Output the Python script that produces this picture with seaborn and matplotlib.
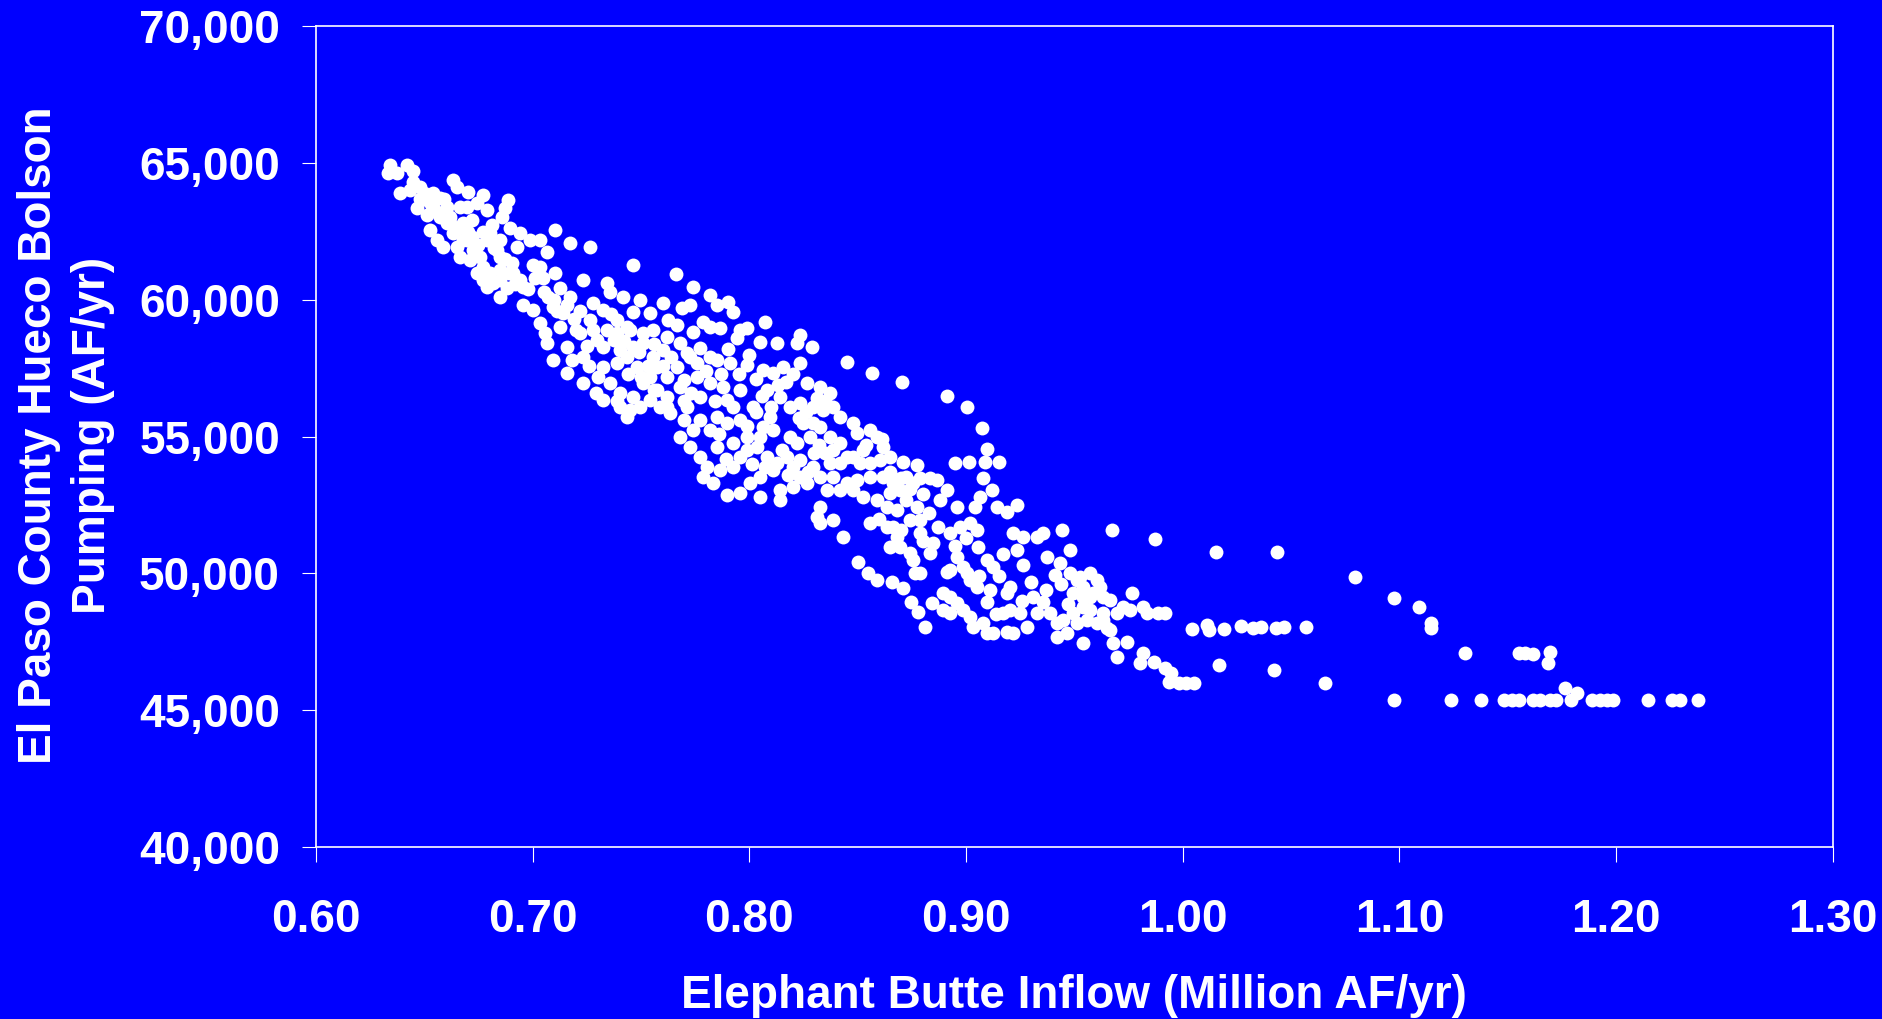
import matplotlib
matplotlib.use("Agg")
import matplotlib.pyplot as plt
import seaborn as sns
import pandas as pd

# (inflow in million AF/yr, pumping in AF/yr) pairs
upper_band = [
    (0.6341, 64933), (0.6334, 64628), (0.6372, 64628), (0.6418, 64933), (0.6449, 64726),
    (0.6388, 63897), (0.6434, 64018), (0.6480, 64140), (0.6465, 63348), (0.6511, 63104),
    (0.6541, 63897), (0.6572, 63714), (0.6603, 63409), (0.6634, 64384), (0.6649, 64140),
    (0.6703, 63957), (0.6741, 63531), (0.6772, 63836), (0.6788, 63287), (0.6888, 63653),
    (0.6872, 63348), (0.6857, 63043), (0.6811, 62739), (0.6803, 62434), (0.6895, 62617),
    (0.6941, 62434), (0.6988, 62190), (0.7034, 62190), (0.7103, 62556), (0.7172, 62068),
    (0.7264, 61946), (0.7064, 61763), (0.7003, 61276), (0.7034, 61215), (0.7103, 60971),
    (0.7049, 60788), (0.6903, 61337), (0.6941, 60727), (0.6957, 60483), (0.6526, 62556),
    (0.6557, 62190), (0.6588, 61946), (0.6603, 62800), (0.6634, 62434), (0.6680, 62800),
    (0.6718, 62921), (0.6695, 62190), (0.6726, 61824), (0.6757, 61580), (0.6772, 61215),
    (0.6803, 60971), (0.6818, 60605), (0.6788, 60483), (0.6849, 60727), (0.6880, 60422),
    (0.6849, 60118), (0.6957, 59813), (0.7003, 59630), (0.7034, 59143), (0.7057, 58777),
    (0.7072, 60118), (0.7126, 60422), (0.7172, 60118), (0.7095, 59752), (0.7141, 59508),
    (0.7234, 60727), (0.7280, 59874), (0.7264, 59264), (0.7218, 58777), (0.7157, 58289),
    (0.7126, 59021), (0.7064, 58411), (0.7095, 57802), (0.7157, 57314), (0.7234, 57923),
    (0.7234, 56948), (0.7295, 58533), (0.6511, 63653), (0.6541, 63409), (0.6572, 63043),
    (0.6618, 63043), (0.6665, 63409), (0.6695, 63409), (0.6649, 61946), (0.6665, 61580),
    (0.6711, 61459), (0.6741, 60971), (0.6772, 60727), (0.6849, 61093), (0.6911, 60971),
    (0.6834, 61824), (0.6788, 62190), (0.6849, 62190), (0.6926, 61946), (0.6849, 61580),
    (0.6450, 64300), (0.6480, 63700), (0.6500, 63900), (0.6530, 63500), (0.6560, 63200),
    (0.6590, 63700), (0.6620, 62800), (0.6650, 62600), (0.6680, 62200), (0.6700, 62500),
    (0.6720, 62300), (0.6750, 62000), (0.6770, 62500), (0.6820, 61900), (0.6870, 61500),
    (0.6890, 61000), (0.6920, 60600), (0.6980, 60400), (0.7010, 60800), (0.7050, 60300),
    (0.7100, 60000), (0.7110, 59600), (0.7160, 59800), (0.7190, 59300), (0.7220, 59600),
    (0.7200, 58900), (0.7250, 58300), (0.7280, 58900), (0.7180, 57800), (0.7260, 57600),
    (0.7300, 57200), (0.7290, 56600),
]

central_mass = [
    (0.7465, 61276), (0.7662, 60947), (0.7742, 60484), (0.7342, 60606), (0.7357, 60301),
    (0.7419, 60118), (0.7496, 59997), (0.7603, 59875), (0.7688, 59692), (0.7726, 59814),
    (0.7819, 60179), (0.7849, 59814), (0.7903, 59935), (0.7926, 59570), (0.7626, 59265),
    (0.7665, 59082), (0.7542, 59509), (0.7465, 59570), (0.7388, 59265), (0.7342, 58899),
    (0.7434, 59021), (0.7511, 58778), (0.7742, 58838), (0.7788, 59204), (0.7819, 59021),
    (0.7865, 58960), (0.7957, 58899), (0.7942, 58595), (0.7988, 58960), (0.8072, 59204),
    (0.8049, 58473), (0.8126, 58412), (0.8234, 58717), (0.8219, 58412), (0.8288, 58290),
    (0.8449, 57741), (0.8565, 57339), (0.7326, 56340), (0.7403, 56096), (0.7434, 55730),
    (0.7465, 56461), (0.7511, 56949), (0.7542, 57193), (0.7603, 58168), (0.7572, 56705),
    (0.7619, 57193), (0.7665, 57559), (0.7696, 57071), (0.7619, 56461), (0.7634, 55852),
    (0.7711, 56096), (0.7757, 57193), (0.7772, 56461), (0.7819, 56949), (0.7880, 56827),
    (0.7957, 56705), (0.7988, 57620), (0.7849, 57802), (0.7772, 58229), (0.7819, 57924),
    (0.7896, 56340), (0.7926, 56096), (0.7849, 55730), (0.7819, 55242), (0.7896, 55486),
    (0.7957, 55608), (0.8019, 56096), (0.8065, 57437), (0.8111, 57315), (0.8157, 57559),
    (0.8234, 57680), (0.8265, 56949), (0.8326, 56827), (0.8372, 56583), (0.8080, 56705),
    (0.8142, 56461), (0.8188, 56096), (0.8234, 56218), (0.8295, 56096), (0.8342, 55974),
    (0.8388, 56096), (0.8419, 55730), (0.8096, 55730), (0.8065, 55364), (0.8111, 55242),
    (0.8188, 54999), (0.8219, 54755), (0.8249, 55486), (0.8295, 55486), (0.8326, 55364),
    (0.8372, 54999), (0.8419, 54755), (0.8449, 54267), (0.8388, 54511), (0.8372, 54023),
    (0.8419, 54023), (0.8449, 53292), (0.8419, 53048), (0.8388, 53536), (0.8357, 53048),
    (0.8326, 52439), (0.8311, 52073), (0.8326, 51829), (0.8388, 51951), (0.8434, 51341),
    (0.7680, 54999), (0.7726, 54633), (0.7772, 54267), (0.7803, 53902), (0.7788, 53536),
    (0.7834, 53292), (0.7896, 52865), (0.7865, 53780), (0.7926, 53902), (0.7957, 54267),
    (0.7988, 54511), (0.8034, 54633), (0.8080, 54267), (0.8126, 54023), (0.8172, 54267),
    (0.8203, 53902), (0.8234, 53536), (0.8265, 53292), (0.8203, 53170), (0.8142, 53048),
    (0.8111, 53780), (0.8049, 53536), (0.8003, 53292), (0.7957, 52926), (0.8049, 52804),
    (0.8142, 52682), (0.8234, 54145), (0.8295, 53902), (0.8326, 53536), (0.8049, 54999),
    (0.7988, 54999), (0.7926, 54755), (0.7849, 54633), (0.7742, 55242), (0.7696, 55608),
    (0.7588, 56096), (0.7542, 56340), (0.7496, 56096), (0.7449, 55974), (0.7403, 56583),
    (0.7357, 56949), (0.7326, 57559), (0.7388, 57680), (0.7434, 57924), (0.7465, 58290),
    (0.7511, 58412), (0.7557, 57924), (0.7572, 57559), (0.7480, 57559), (0.7403, 58168),
    (0.7373, 58534), (0.7326, 58290), (0.7326, 59631), (0.7557, 58899), (0.7619, 58656),
    (0.7680, 58412), (0.7711, 58046), (0.7726, 57924),
    (0.7360, 59500), (0.7390, 58800), (0.7420, 58500), (0.7450, 58900), (0.7490, 58100),
    (0.7530, 57600), (0.7560, 58400), (0.7600, 57600), (0.7640, 57900), (0.7680, 56800),
    (0.7730, 56600), (0.7760, 57700), (0.7800, 57400), (0.7840, 56300), (0.7870, 57300),
    (0.7900, 58200), (0.7910, 57700), (0.7950, 57300), (0.8000, 58000), (0.8030, 57100),
    (0.8060, 56500), (0.8100, 56100), (0.8130, 56900), (0.8170, 57000), (0.8200, 57300),
    (0.8230, 55700), (0.8260, 55900), (0.8310, 56400), (0.8350, 56300), (0.8280, 55000),
    (0.8320, 54700), (0.8350, 54400), (0.8300, 54400), (0.8270, 53700), (0.8180, 53600),
    (0.8150, 54500), (0.8010, 54000), (0.8070, 53900), (0.7890, 54200), (0.7860, 55100),
    (0.7990, 55400), (0.8030, 55900), (0.7770, 55600), (0.7700, 56300), (0.7620, 56100),
    (0.7560, 56700), (0.7500, 57200), (0.7440, 57300), (0.7390, 56300),
]

lower_mass = [
    (0.8702, 57011), (0.8910, 56487), (0.9005, 56072), (0.9072, 55329), (0.9098, 54537),
    (0.8949, 54049), (0.9015, 54085), (0.9087, 54085), (0.9152, 54085), (0.9079, 53500),
    (0.9118, 53049), (0.9064, 52806), (0.9041, 52440), (0.9141, 52440), (0.9187, 52257),
    (0.9233, 52501), (0.9218, 51465), (0.9264, 51343), (0.9325, 51343), (0.9356, 51465),
    (0.9233, 50855), (0.9264, 50307), (0.9372, 50611), (0.9433, 50368), (0.9479, 50855),
    (0.9410, 49941), (0.9441, 51587), (0.9675, 51587), (0.8479, 55487), (0.8495, 55122),
    (0.8556, 55244), (0.8587, 55000), (0.8618, 54634), (0.8526, 54512), (0.8479, 54268),
    (0.8510, 54025), (0.8556, 54025), (0.8602, 54146), (0.8649, 54268), (0.8710, 54085),
    (0.8772, 53964), (0.8725, 53537), (0.8787, 53476), (0.8833, 53476), (0.8864, 53415),
    (0.8756, 53293), (0.8664, 53293), (0.8618, 53537), (0.8556, 53537), (0.8495, 53415),
    (0.8479, 53049), (0.8526, 52806), (0.8587, 52684), (0.8633, 52440), (0.8679, 52318),
    (0.8649, 52927), (0.8695, 53049), (0.8725, 52684), (0.8772, 52440), (0.8787, 51952),
    (0.8741, 51952), (0.8787, 51465), (0.8679, 51343), (0.8649, 50977), (0.8695, 50977),
    (0.8741, 50733), (0.8756, 50490), (0.8849, 51099), (0.8833, 50733), (0.8910, 53049),
    (0.8879, 52684), (0.8956, 52440), (0.8925, 51465), (0.8972, 51708), (0.9018, 51830),
    (0.9049, 51587), (0.9056, 50977), (0.9095, 50490), (0.9125, 50246), (0.8956, 50611),
    (0.8925, 50124), (0.8987, 50246), (0.9002, 50002), (0.9018, 49758), (0.9049, 49514),
    (0.9110, 49392), (0.8910, 50063), (0.8764, 50026), (0.8787, 50026), (0.8556, 51830),
    (0.8633, 51708), (0.8664, 51708), (0.8502, 50428), (0.8549, 50002), (0.8587, 49758),
    (0.8656, 49697), (0.8710, 49453), (0.8748, 48966), (0.8779, 48600), (0.8810, 48051),
    (0.8841, 48905), (0.8895, 49270), (0.8925, 49149), (0.8956, 48905), (0.8987, 48661),
    (0.9018, 48417), (0.9033, 48051), (0.8925, 48539), (0.8895, 48661), (0.9079, 48173),
    (0.9095, 47808), (0.9125, 47808), (0.9187, 47869), (0.9218, 47808), (0.9172, 48539),
    (0.9202, 48661), (0.9249, 48539), (0.9279, 48051), (0.9325, 48539), (0.9310, 49149),
    (0.9356, 48966), (0.9387, 48539), (0.9418, 48173), (0.9418, 47686), (0.9464, 47808),
    (0.9448, 48295), (0.9495, 48539), (0.9510, 48173), (0.9541, 48783), (0.9572, 48661),
    (0.9602, 48173), (0.9633, 48295), (0.9664, 47930), (0.9679, 47442), (0.9695, 46954),
    (0.9741, 47503), (0.9541, 47442), (0.9633, 48539), (0.9695, 48539), (0.9725, 48783),
    (0.9756, 48661), (0.9664, 49027), (0.9633, 49149), (0.9572, 49149), (0.9541, 49514),
    (0.9510, 49758), (0.9479, 50002), (0.9525, 49880), (0.9572, 50002), (0.9602, 49758),
    (0.9618, 49514), (0.9587, 49270), (0.9495, 49270), (0.9541, 49149), (0.9202, 49514),
    (0.9187, 49270), (0.9095, 48966), (0.9764, 49270), (0.9818, 48783), (0.9833, 48539),
    (0.9818, 47076), (0.9802, 46710),
    (0.8540, 54700), (0.8610, 54900), (0.8650, 53700), (0.8700, 53500), (0.8740, 53100),
    (0.8800, 52900), (0.8830, 52200), (0.8600, 52000), (0.8700, 51600), (0.8800, 51200),
    (0.8870, 51700), (0.8950, 51000), (0.9000, 51300), (0.9060, 49900), (0.9150, 49900),
    (0.9170, 50700), (0.9300, 49700), (0.9370, 49400), (0.9440, 49600), (0.9260, 49000),
    (0.9140, 48500), (0.9470, 48900), (0.9560, 48300), (0.9650, 48000),
]

tail_points = [
    (0.9870, 51247), (1.0154, 50784), (1.0437, 50784), (1.0794, 49857), (1.0976, 49114),
    (1.1092, 48760), (1.1147, 48175), (1.1147, 47992), (0.9884, 48541), (0.9920, 48541),
    (1.0043, 47956), (1.0114, 48114), (1.0123, 47931), (1.0190, 47956), (1.0269, 48078),
    (1.0326, 47992), (1.0361, 48029), (1.0432, 47992), (1.0467, 48029), (1.0568, 48029),
    (1.1302, 47102), (1.1553, 47102), (1.1580, 47078), (1.1615, 47041), (1.1694, 47127),
    (1.1685, 46712), (0.9867, 46773), (0.9920, 46530), (0.9946, 46347), (0.9937, 46042),
    (0.9981, 45981), (1.0017, 45981), (1.0052, 45981), (1.0167, 46639), (1.0423, 46468),
    (1.0656, 46005), (1.0976, 45359), (1.1239, 45359), (1.1376, 45359), (1.1482, 45359),
    (1.1518, 45359), (1.1553, 45359), (1.1615, 45359), (1.1650, 45359), (1.1694, 45359),
    (1.1721, 45359), (1.1791, 45371), (1.1889, 45359), (1.1924, 45359), (1.1959, 45359),
    (1.1986, 45359), (1.2145, 45359), (1.2259, 45359), (1.2295, 45359), (1.2378, 45359),
    (1.1765, 45798), (1.1818, 45615),
]

x_ticks = [0.60, 0.70, 0.80, 0.90, 1.00, 1.10, 1.20, 1.30]
y_ticks = [40000, 45000, 50000, 55000, 60000, 65000, 70000]
x_label = "Elephant Butte Inflow (Million AF/yr)"
y_label = "El Paso County Hueco Bolson\nPumping (AF/yr)"

sns.set_style("white")
plt.rcParams['font.family'] = ['Liberation Sans', 'DejaVu Sans']
plt.rcParams['font.weight'] = 'bold'

BLUE = '#0000FF'
fig = plt.figure(figsize=(18.83, 10.19), dpi=100, facecolor=BLUE)
ax = fig.add_axes([0.1678, 0.1688, 0.8056, 0.8053])
ax.set_facecolor(BLUE)

df = pd.DataFrame(upper_band + central_mass + lower_mass + tail_points,
                  columns=['inflow', 'pumping'])
sns.scatterplot(data=df, x='inflow', y='pumping', ax=ax, color='white', s=100,
                linewidth=0, marker='o', legend=False)

ax.set_xlim(0.60, 1.30)
ax.set_ylim(40000, 70000)
ax.set_xticks(x_ticks)
ax.set_xticklabels([f"{v:.2f}" for v in x_ticks])
ax.set_yticks(y_ticks)
ax.set_yticklabels([f"{v:,}" for v in y_ticks])
ax.tick_params(axis='x', direction='out', length=11, width=0.8, color='white',
               labelcolor='white', labelsize=33, pad=26, bottom=True)
ax.tick_params(axis='y', direction='out', length=10, width=0.8, color='white',
               labelcolor='white', labelsize=33, pad=16, left=True)
for lbl in ax.get_xticklabels() + ax.get_yticklabels():
    lbl.set_fontweight('bold')
for sp in ax.spines.values():
    sp.set_visible(True)
    sp.set_color('white')
    sp.set_linewidth(1.2)
ax.set_xlabel('')
ax.set_ylabel('')

fig.text(0.5704, 0.0225, x_label, ha='center', va='center', color='white',
         fontsize=33, fontweight='bold')
fig.text(0.035, 0.573, y_label, rotation=90, ha='center', va='center', color='white',
         fontsize=33, fontweight='bold', linespacing=1.3, multialignment='center')

fig.savefig('out.png', dpi=100, facecolor=BLUE)
